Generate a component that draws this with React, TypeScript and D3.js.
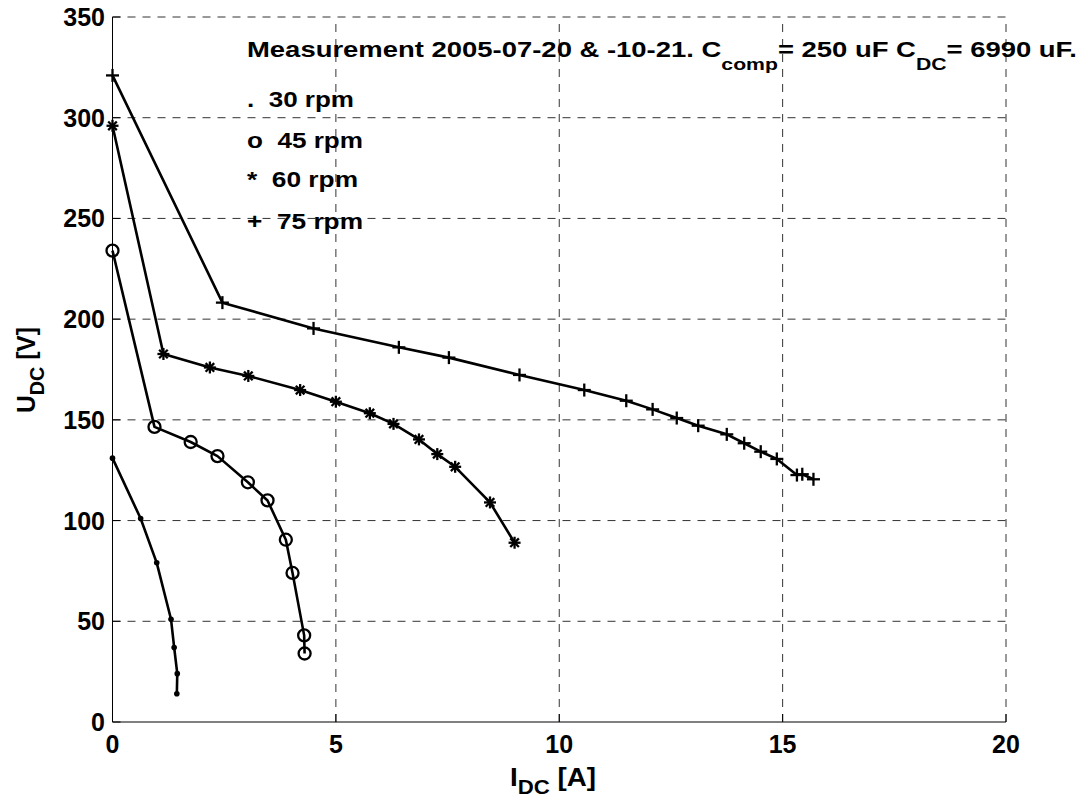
import React from 'react';
import * as d3 from 'd3';

// Data (I_DC [A], U_DC [V])
const rpm30: [number, number][] = [[0, 131], [0.63, 101], [0.99, 79], [1.31, 51], [1.38, 37], [1.45, 24], [1.44, 14]];
const rpm45: [number, number][] = [[0, 234], [0.94, 146.5], [1.75, 139], [2.35, 132], [3.03, 119], [3.47, 110], [3.88, 90.5], [4.03, 74], [4.29, 43], [4.3, 34]];
const rpm60: [number, number][] = [[0, 296], [1.14, 182.7], [2.18, 176], [3.04, 171.8], [4.2, 164.8], [5.0, 159], [5.76, 153.3], [6.29, 148], [6.86, 140.3], [7.27, 133], [7.67, 126.7], [8.45, 109], [9.0, 89]];
const rpm75: [number, number][] = [[0, 321], [2.46, 208.2], [4.5, 195.4], [6.41, 186], [7.53, 180.9], [9.11, 172.3], [10.56, 164.8], [11.5, 159.5], [12.09, 155.2], [12.63, 150.9], [13.11, 147.1], [13.75, 142.8], [14.14, 138.4], [14.51, 134.2], [14.87, 130.6], [15.32, 122.6], [15.44, 123], [15.69, 120.5]];

const xTicks = [0, 5, 10, 15, 20];
const yTicks = [0, 50, 100, 150, 200, 250, 300, 350];
const legendLabels = ['.  30 rpm', 'o  45 rpm', '*  60 rpm', '+  75 rpm'];

const W = 1083, H = 798;
const M = { left: 112.5, right: 1006, top: 17, bottom: 722 };
const FONT = 'Liberation Sans, Arial, Helvetica, sans-serif';

const x = d3.scaleLinear().domain([0, 20]).range([M.left, M.right]);
const y = d3.scaleLinear().domain([0, 350]).range([M.bottom, M.top]);
const line = d3.line<[number, number]>().x(d => x(d[0])).y(d => y(d[1]));

type MarkerKind = 'dot' | 'circle' | 'star' | 'plus';

function Marker({ kind, cx, cy }: { kind: MarkerKind; cx: number; cy: number }) {
  if (kind === 'dot') return <circle cx={cx} cy={cy} r={2.8} fill="#000" />;
  if (kind === 'circle') return <circle cx={cx} cy={cy} r={6} fill="none" stroke="#000" strokeWidth={2.3} />;
  if (kind === 'plus') {
    const a = 6.5;
    return (
      <g stroke="#000" strokeWidth={2.3}>
        <line x1={cx - a} y1={cy} x2={cx + a} y2={cy} />
        <line x1={cx} y1={cy - a} x2={cx} y2={cy + a} />
      </g>
    );
  }
  const a = 6, b = 4.3;
  return (
    <g stroke="#000" strokeWidth={2.3}>
      <line x1={cx - a} y1={cy} x2={cx + a} y2={cy} />
      <line x1={cx} y1={cy - a} x2={cx} y2={cy + a} />
      <line x1={cx - b} y1={cy - b} x2={cx + b} y2={cy + b} />
      <line x1={cx - b} y1={cy + b} x2={cx + b} y2={cy - b} />
    </g>
  );
}

const series: { data: [number, number][]; kind: MarkerKind }[] = [
  { data: rpm30, kind: 'dot' },
  { data: rpm45, kind: 'circle' },
  { data: rpm60, kind: 'star' },
  { data: rpm75, kind: 'plus' },
];

const legendY = [107, 148, 187, 229];
const legendLen = [107, 116, 111, 116];

export default function App() {
  return (
    <svg width={W} height={H} style={{ position: 'absolute', left: 0, top: 0, background: '#fff' }}
      fontFamily={FONT} fontWeight="bold">
      <rect x={0} y={0} width={W} height={H} fill="#fff" />
      {/* grid */}
      <g stroke="#333" strokeWidth={1} strokeDasharray="8,7">
        {xTicks.filter(t => t !== 0).map(t => (
          <line key={'gx' + t} x1={x(t)} x2={x(t)} y1={y(0)} y2={y(350)} />
        ))}
        {yTicks.filter(t => t !== 0).map(t => (
          <line key={'gy' + t} x1={x(0)} x2={x(20)} y1={y(t)} y2={y(t)} />
        ))}
      </g>
      {/* axes */}
      <g stroke="#000" strokeWidth={1}>
        <line x1={x(0)} x2={x(0)} y1={y(0)} y2={y(350)} />
        <line x1={x(0)} x2={x(20)} y1={y(0)} y2={y(0)} />
        {xTicks.map(t => (
          <line key={'tx' + t} x1={x(t)} x2={x(t)} y1={y(0)} y2={y(0) - 8} />
        ))}
        {yTicks.map(t => (
          <line key={'ty' + t} x1={x(0)} x2={x(0) + 8} y1={y(t)} y2={y(t)} />
        ))}
      </g>
      {/* tick labels */}
      <g fontSize={25} fill="#000">
        {xTicks.map(t => (
          <text key={'lx' + t} x={x(t)} y={753} textAnchor="middle">{t}</text>
        ))}
        {yTicks.map(t => (
          <text key={'ly' + t} x={105} y={y(t) + 9} textAnchor="end">{t}</text>
        ))}
      </g>
      {/* series */}
      {series.map((s, i) => (
        <g key={'s' + i}>
          <path d={line(s.data) || ''} fill="none" stroke="#000" strokeWidth={2.6} strokeLinejoin="round" />
          {s.data.map((d, j) => (
            <Marker key={j} kind={s.kind} cx={x(d[0])} cy={y(d[1])} />
          ))}
        </g>
      ))}
      {/* title / legend text */}
      <text x={247} y={57} fontSize={22} fill="#000" textLength={830} lengthAdjust="spacingAndGlyphs">
        Measurement 2005-07-20 &amp; -10-21. C<tspan dy={13} fontSize={17}>comp</tspan>
        <tspan dy={-13}>= 250 uF C</tspan><tspan dy={13} fontSize={17}>DC</tspan>
        <tspan dy={-13}>= 6990 uF.</tspan>
      </text>
      <g fontSize={22} fill="#000">
        {legendLabels.map((l, i) => (
          <text key={l} x={247} y={legendY[i]} xmlSpace="preserve" style={{ whiteSpace: 'pre' }}
            textLength={legendLen[i]} lengthAdjust="spacingAndGlyphs">{l}</text>
        ))}
      </g>
      {/* axis labels */}
      <text x={510} y={786} fontSize={25} fill="#000" textLength={86} lengthAdjust="spacingAndGlyphs">
        I<tspan dy={8} fontSize={20}>DC</tspan><tspan dy={-8}> [A]</tspan>
      </text>
      <text transform={`translate(35,370) rotate(-90)`} textAnchor="middle" fontSize={25} fill="#000"
        textLength={86} lengthAdjust="spacingAndGlyphs">
        U<tspan dy={9} fontSize={20}>DC</tspan><tspan dy={-9}> [V]</tspan>
      </text>
    </svg>
  );
}
